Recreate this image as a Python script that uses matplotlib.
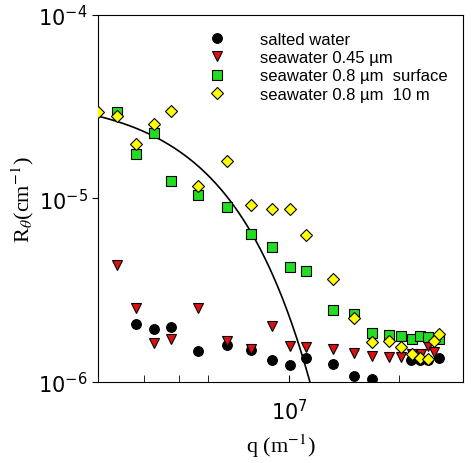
import numpy as np
import matplotlib
matplotlib.use("Agg")
import matplotlib.pyplot as plt
from matplotlib.ticker import FixedLocator, NullFormatter

plt.rcParams["mathtext.fontset"] = "stix"

salted_q = [3.82e6, 4.28e6, 4.74e6, 5.65e6, 6.78e6, 7.86e6, 8.99e6, 1.004e7, 1.11e7, 1.32e7, 1.51e7, 1.69e7, 2.16e7, 2.29e7, 2.40e7, 2.57e7]
salted_R = [2.07e-6, 1.94e-6, 1.99e-6, 1.47e-6, 1.58e-6, 1.49e-6, 1.31e-6, 1.24e-6, 1.35e-6, 1.25e-6, 1.08e-6, 1.03e-6, 1.32e-6, 1.32e-6, 1.31e-6, 1.35e-6]

sw045_q = [3.37e6, 3.82e6, 4.28e6, 4.74e6, 5.65e6, 6.78e6, 7.86e6, 8.99e6, 1.004e7, 1.11e7, 1.32e7, 1.51e7, 1.69e7, 1.88e7, 2.03e7, 2.17e7, 2.30e7, 2.40e7, 2.50e7]
sw045_R = [4.32e-6, 2.53e-6, 1.62e-6, 1.71e-6, 2.51e-6, 1.66e-6, 1.50e-6, 2.01e-6, 1.57e-6, 1.54e-6, 1.51e-6, 1.44e-6, 1.38e-6, 1.37e-6, 1.37e-6, 1.42e-6, 1.42e-6, 1.57e-6, 1.45e-6]

sws_q = [3.37e6, 3.82e6, 4.28e6, 4.74e6, 5.65e6, 6.78e6, 7.86e6, 8.99e6, 1.004e7, 1.11e7, 1.32e7, 1.51e7, 1.69e7, 1.88e7, 2.03e7, 2.17e7, 2.29e7, 2.40e7, 2.57e7]
sws_R = [2.96e-5, 1.75e-5, 2.26e-5, 1.24e-5, 1.04e-5, 8.95e-6, 6.35e-6, 5.42e-6, 4.22e-6, 4.00e-6, 2.45e-6, 2.33e-6, 1.85e-6, 1.81e-6, 1.78e-6, 1.72e-6, 1.78e-6, 1.76e-6, 1.72e-6]

sw10_q = [3.0e6, 3.37e6, 3.82e6, 4.28e6, 4.74e6, 5.65e6, 6.78e6, 7.86e6, 8.99e6, 1.004e7, 1.11e7, 1.32e7, 1.51e7, 1.69e7, 1.88e7, 2.03e7, 2.17e7, 2.29e7, 2.40e7, 2.50e7, 2.57e7]
sw10_R = [2.94e-5, 2.80e-5, 1.98e-5, 2.53e-5, 2.98e-5, 1.17e-5, 1.59e-5, 9.25e-6, 8.69e-6, 8.77e-6, 6.28e-6, 3.61e-6, 2.23e-6, 1.65e-6, 1.66e-6, 1.54e-6, 1.41e-6, 1.35e-6, 1.33e-6, 1.66e-6, 1.83e-6]

# Guinier fit line
fit_R0 = 3.59e-5
fit_a = 2.75e-14

fig = plt.figure(figsize=(4.74, 4.64), dpi=100)
ax = fig.add_axes([0.207, 0.175, 0.770, 0.791])
ax.set_xscale("log"); ax.set_yscale("log")

qq = np.logspace(np.log10(3e6), np.log10(1.2e7), 300)
ax.plot(qq, fit_R0 * np.exp(-fit_a * qq**2), color="black", lw=1.2, zorder=1)

kw = dict(linestyle="none", markeredgecolor="black", markeredgewidth=0.8, zorder=3)
ax.plot(salted_q, salted_R, "o", color="black", ms=7, label="salted water", **kw)
ax.plot(sw045_q, sw045_R, "v", color="#dd1111", ms=7.5, label="seawater 0.45 µm", **kw)
ax.plot(sws_q, sws_R, "s", color="#22dd22", ms=7, label="seawater 0.8 µm  surface", **kw)
ax.plot(sw10_q, sw10_R, "D", color="#ffff00", ms=6.5, label="seawater 0.8 µm  10 m", **kw)

ax.set_xlim(3e6, 3e7)
ax.set_ylim(1e-6, 1e-4)
ax.xaxis.set_major_locator(FixedLocator([1e7]))
ax.xaxis.set_minor_locator(FixedLocator([4e6, 5e6, 6e6, 2e7]))
ax.xaxis.set_minor_formatter(NullFormatter())
ax.yaxis.set_minor_locator(FixedLocator([]))
ax.tick_params(axis="x", which="both", direction="in", length=5, labelsize=15, pad=12)
ax.tick_params(axis="y", which="both", direction="out", length=4, labelsize=15)

ax.set_xlabel("q (m$^{-1}$)", fontsize=16, family="Liberation Serif", labelpad=6)
ax.set_ylabel("R$_\\theta$(cm$^{-1}$)", fontsize=16, family="Liberation Serif", labelpad=2)

ax.legend(loc="upper right", frameon=False, prop={"family": "Liberation Sans", "size": 12},
          handletextpad=1.6, borderaxespad=0.4, labelspacing=0.2, bbox_to_anchor=(0.995, 0.99))

fig.savefig("out.png", dpi=100)
